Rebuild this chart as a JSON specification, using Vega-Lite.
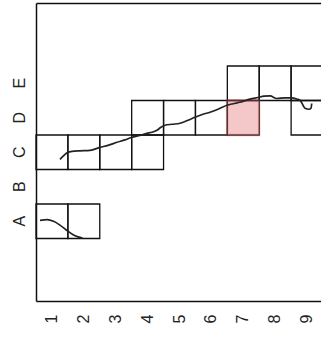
{
  "$schema": "https://vega.github.io/schema/vega-lite/v6.json",
  "width": 285,
  "height": 298,
  "autosize": {"type": "none"},
  "padding": {"left": 36, "top": 3, "right": 0, "bottom": 36},
  "config": {
    "view": {"stroke": null},
    "font": "Liberation Sans",
    "axis": {"labelFont": "Liberation Sans", "labelFontSize": 16, "labelColor": "#222", "grid": false}
  },
  "datasets": {
    "cells": [
      {"col": 1, "row": "A", "highlight": false},
      {"col": 2, "row": "A", "highlight": false},
      {"col": 1, "row": "C", "highlight": false},
      {"col": 2, "row": "C", "highlight": false},
      {"col": 3, "row": "C", "highlight": false},
      {"col": 4, "row": "C", "highlight": false},
      {"col": 4, "row": "D", "highlight": false},
      {"col": 5, "row": "D", "highlight": false},
      {"col": 6, "row": "D", "highlight": false},
      {"col": 7, "row": "D", "highlight": true},
      {"col": 9, "row": "D", "highlight": false},
      {"col": 7, "row": "E", "highlight": false},
      {"col": 8, "row": "E", "highlight": false},
      {"col": 9, "row": "E", "highlight": false}
    ],
    "path": [
      {"seg": "a", "i": 1, "x": 0.625, "y": 1.03},
      {"seg": "a", "i": 2, "x": 0.85, "y": 1.05},
      {"seg": "a", "i": 3, "x": 1.05, "y": 1.0},
      {"seg": "a", "i": 4, "x": 1.25, "y": 0.89},
      {"seg": "a", "i": 5, "x": 1.45, "y": 0.75},
      {"seg": "a", "i": 6, "x": 1.65, "y": 0.62},
      {"seg": "a", "i": 7, "x": 1.82, "y": 0.55},
      {"seg": "a", "i": 8, "x": 1.964, "y": 0.51},
      {"seg": "b", "i": 1, "x": 1.252, "y": 2.797},
      {"seg": "b", "i": 2, "x": 1.378, "y": 2.913},
      {"seg": "b", "i": 3, "x": 1.503, "y": 3.0},
      {"seg": "b", "i": 4, "x": 1.629, "y": 3.029},
      {"seg": "b", "i": 5, "x": 1.879, "y": 3.044},
      {"seg": "b", "i": 6, "x": 2.193, "y": 3.058},
      {"seg": "b", "i": 7, "x": 2.506, "y": 3.145},
      {"seg": "b", "i": 8, "x": 2.757, "y": 3.203},
      {"seg": "b", "i": 9, "x": 3.039, "y": 3.291},
      {"seg": "b", "i": 10, "x": 3.29, "y": 3.363},
      {"seg": "b", "i": 11, "x": 3.509, "y": 3.436},
      {"seg": "b", "i": 12, "x": 3.759, "y": 3.494},
      {"seg": "b", "i": 13, "x": 3.978, "y": 3.552},
      {"seg": "b", "i": 14, "x": 4.136, "y": 3.581},
      {"seg": "b", "i": 15, "x": 4.292, "y": 3.64},
      {"seg": "b", "i": 16, "x": 4.417, "y": 3.727},
      {"seg": "b", "i": 17, "x": 4.544, "y": 3.785},
      {"seg": "b", "i": 18, "x": 4.763, "y": 3.814},
      {"seg": "b", "i": 19, "x": 5.014, "y": 3.843},
      {"seg": "b", "i": 20, "x": 5.265, "y": 3.93},
      {"seg": "b", "i": 21, "x": 5.484, "y": 4.017},
      {"seg": "b", "i": 22, "x": 5.735, "y": 4.105},
      {"seg": "b", "i": 23, "x": 5.955, "y": 4.163},
      {"seg": "b", "i": 24, "x": 6.205, "y": 4.25},
      {"seg": "b", "i": 25, "x": 6.487, "y": 4.366},
      {"seg": "b", "i": 26, "x": 6.676, "y": 4.41},
      {"seg": "b", "i": 27, "x": 6.895, "y": 4.453},
      {"seg": "b", "i": 28, "x": 7.208, "y": 4.541},
      {"seg": "b", "i": 29, "x": 7.459, "y": 4.59},
      {"seg": "b", "i": 30, "x": 7.647, "y": 4.628},
      {"seg": "b", "i": 31, "x": 7.836, "y": 4.637},
      {"seg": "b", "i": 32, "x": 8.046, "y": 4.561},
      {"seg": "b", "i": 33, "x": 8.306, "y": 4.578},
      {"seg": "b", "i": 34, "x": 8.516, "y": 4.578},
      {"seg": "b", "i": 35, "x": 8.691, "y": 4.541},
      {"seg": "b", "i": 36, "x": 8.776, "y": 4.512},
      {"seg": "b", "i": 37, "x": 8.87, "y": 4.366},
      {"seg": "b", "i": 38, "x": 8.933, "y": 4.279},
      {"seg": "b", "i": 39, "x": 9.058, "y": 4.25},
      {"seg": "b", "i": 40, "x": 9.121, "y": 4.279},
      {"seg": "b", "i": 41, "x": 9.143, "y": 4.416}
    ]
  },
  "layer": [
    {
      "data": {"name": "cells"},
      "mark": {"type": "rect", "fill": "white", "fillOpacity": 0, "stroke": "#111", "strokeWidth": 1.3},
      "encoding": {
        "x": {
          "field": "col", "type": "ordinal",
          "scale": {"domain": [1, 2, 3, 4, 5, 6, 7, 8, 9], "range": [0, 287], "paddingInner": 0, "paddingOuter": 0},
          "axis": {"orient": "bottom", "title": null, "labelAngle": -90, "labelAlign": "right", "labelBaseline": "middle", "labelPadding": 13, "ticks": false, "tickSize": 0, "domain": true, "domainColor": "#111", "domainWidth": 1.5}
        },
        "y": {
          "field": "row", "type": "ordinal",
          "scale": {"domain": ["E", "D", "C", "B", "A"], "range": [63, 235.5], "paddingInner": 0, "paddingOuter": 0},
          "axis": {"orient": "left", "title": null, "labelAngle": -90, "labelAlign": "center", "labelBaseline": "alphabetic", "labelPadding": 12, "ticks": false, "tickSize": 0, "domain": false}
        }
      }
    },
    {
      "data": {"name": "cells"},
      "transform": [{"filter": "datum.highlight"}],
      "mark": {"type": "rect", "fill": "#e06060", "fillOpacity": 0.35, "stroke": "#e06060", "strokeOpacity": 0.22, "strokeWidth": 3},
      "encoding": {
        "x": {
          "field": "col", "type": "ordinal",
          "scale": {"domain": [1, 2, 3, 4, 5, 6, 7, 8, 9], "range": [0, 287], "paddingInner": 0, "paddingOuter": 0},
          "axis": null
        },
        "y": {
          "field": "row", "type": "ordinal",
          "scale": {"domain": ["E", "D", "C", "B", "A"], "range": [63, 235.5], "paddingInner": 0, "paddingOuter": 0},
          "axis": null
        }
      }
    },
    {
      "data": {"name": "path"},
      "mark": {"type": "line", "color": "#222", "strokeWidth": 1.7, "interpolate": "monotone"},
      "encoding": {
        "x": {
          "field": "x", "type": "quantitative",
          "scale": {"domain": [0.5, 9.434], "nice": false, "zero": false},
          "axis": {"orient": "top", "title": null, "labels": false, "ticks": false, "grid": false, "domain": true, "domainColor": "#111", "domainWidth": 1.5}
        },
        "y": {
          "field": "y", "type": "quantitative",
          "scale": {"domain": [-1.31, 7.33], "nice": false, "zero": false},
          "axis": {"orient": "left", "title": null, "labels": false, "ticks": false, "grid": false, "domain": true, "domainColor": "#111", "domainWidth": 1.5}
        },
        "detail": {"field": "seg"},
        "order": {"field": "i"}
      }
    }
  ],
  "resolve": {"scale": {"x": "independent", "y": "independent"}, "axis": {"x": "independent", "y": "independent"}}
}
